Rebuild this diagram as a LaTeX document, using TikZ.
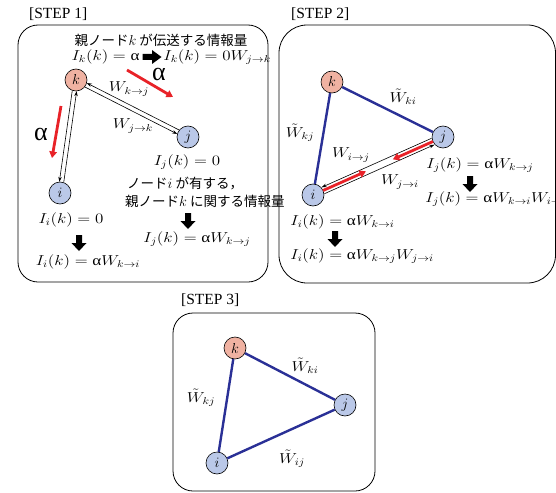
\documentclass[tikz,border=0pt]{standalone}
\usepackage{fontspec}
\setmainfont{Liberation Serif}
\newfontfamily\jp{Noto Sans CJK JP}
\usetikzlibrary{arrows.meta,calc}
\newcommand{\ua}{\mbox{\rmfamily α}}
\definecolor{nodek}{RGB}{240,178,162}
\definecolor{nodeb}{RGB}{186,200,232}
\definecolor{edgeblue}{RGB}{42,48,150}
\definecolor{redar}{RGB}{232,34,40}
\tikzset{
  panel/.style={draw, line width=0.8pt, rounded corners=20pt},
  vtx/.style={circle, draw, line width=0.6pt, minimum size=22pt, inner sep=0pt, font=\fontsize{15}{17}\selectfont},
  kv/.style={vtx, fill=nodek},
  bv/.style={vtx, fill=nodeb},
  steplabel/.style={font=\fontsize{15.5}{17}\selectfont, inner sep=0pt},
  eq/.style={font=\fontsize{14.5}{16}\selectfont, inner sep=1pt, xscale=1.18},
  jptext/.style={font=\jp\fontsize{13.5}{15}\selectfont, inner sep=0pt},
  alab/.style={font=\rmfamily\fontsize{26}{28}\selectfont, inner sep=0pt},
  thinarr/.style={line width=0.6pt, -{Stealth[length=5pt,width=3.5pt]}, shorten >=11pt, shorten <=11pt},
  redarr/.style={draw=redar, line width=2.8pt, -{Triangle[length=6.5pt,width=7.5pt]}, color=redar},
  blueedge/.style={draw=edgeblue, line width=2.4pt},
  downarr/.pic={\fill (-3,-8) -- (3,-8) -- (3,0) -- (7.5,0) -- (0,8) -- (-7.5,0) -- (-3,0) -- cycle;},
  rightarr/.pic={\fill (-9.5,-3) -- (0,-3) -- (0,-7) -- (9.5,0) -- (0,7) -- (0,3) -- (-9.5,3) -- cycle;}
}
\begin{document}
\begin{tikzpicture}[x=1pt,y=-1pt]
\useasboundingbox (0,0) rectangle (556,492);
% ---------- panels ----------
\draw[panel] (18,25) rectangle (268,282);
\draw[panel, rounded corners=28pt] (279,25) rectangle (555.5,283);
\draw[panel] (173,313) rectangle (375,491);
\node[steplabel, anchor=west] (s1) at (29,14) {[STEP 1]};
\node[steplabel, anchor=west] (s2) at (291,14) {[STEP 2]};
\node[steplabel, anchor=west] (s3) at (181,300) {[STEP 3]};
% ---------- STEP 1 ----------
\node[kv] (k1) at (76,80) {$k$};
\node[bv] (j1) at (188,137) {$j$};
\node[bv] (i1) at (60,193) {$i$};
\node[jptext] (t1) at (161,40) {親ノード$k$ が伝送する情報量};
\node[eq, anchor=east] (e1a) at (141,57) {$I_k(k)=\ua$};
\pic at (152,57) {rightarr};
\node[eq, anchor=west] (e1b) at (162,57) {$I_k(k)=0W_{j\to k}$};
% k-j double arrows
\draw[thinarr] ($(j1)!2.2pt!-90:(k1)$) -- ($(k1)!2.2pt!90:(j1)$);
\draw[thinarr] ($(k1)!2.2pt!-90:(j1)$) -- ($(j1)!2.2pt!90:(k1)$);
\node[eq] (w1) at (129,89) {$W_{k\to j}$};
\node[eq] (w2) at (133,126) {$W_{j\to k}$};
% k-i double arrows
\draw[thinarr] ($(i1)!2.2pt!-90:(k1)$) -- ($(k1)!2.2pt!90:(i1)$);
\draw[thinarr] ($(k1)!2.2pt!-90:(i1)$) -- ($(i1)!2.2pt!90:(k1)$);
% red arrows
\coordinate (ra1) at (127,70); \coordinate (ra2) at (173,97);
\draw[redarr] (ra1) -- (ra2);
\node[alab] (al1) at (159,74) {α};
\coordinate (rb1) at (61,106); \coordinate (rb2) at (52,158);
\draw[redarr] (rb1) -- (rb2);
\node[alab] (al2) at (41,134) {α};
% equations
\node[eq] (ij0) at (187,162) {$I_j(k)=0$};
\node[jptext, anchor=west] (t2) at (127,184) {ノード$i$ が有する，};
\node[jptext, anchor=west] (t3) at (125,201) {親ノード$k$ に関する情報量};
\pic at (188,221) {downarr};
\node[eq] (ij1) at (197,239) {$I_j(k)=\ua W_{k\to j}$};
\node[eq] (ii0) at (71,220) {$I_i(k)=0$};
\pic at (79,243) {downarr};
\node[eq] (ii1) at (88,262) {$I_i(k)=\ua W_{k\to i}$};
% ---------- STEP 2 ----------
\node[kv] (k2) at (332,82) {$k$};
\node[bv] (j2) at (443,137) {$j$};
\node[bv] (i2) at (313,195) {$i$};
\draw[blueedge] (k2) -- (j2);
\draw[blueedge] (k2) -- (i2);
\node[eq] (w3) at (300,133) {$\tilde{W}_{kj}$};
\node[eq] (w4) at (403,97) {$\tilde{W}_{ki}$};
\draw[thinarr] ($(i2)!3.5pt!-90:(j2)$) -- ($(j2)!3.5pt!90:(i2)$);
\draw[thinarr] ($(j2)!3.5pt!-90:(i2)$) -- ($(i2)!3.5pt!90:(j2)$);
\draw[redarr] ($(i2)!11pt!(j2)$) -- ($(i2)!58pt!(j2)$);
\draw[redarr] ($(j2)!11pt!(i2)$) -- ($(j2)!55pt!(i2)$);
\node[eq] (w5) at (351,155) {$W_{i\to j}$};
\node[eq] (w6) at (400,182) {$W_{j\to i}$};
\node[eq, anchor=west] (e2a) at (425,165) {$I_j(k)=\ua W_{k\to j}$};
\pic at (470,184) {downarr};
\node[eq, anchor=west] (e2b) at (424,199) {$I_j(k)=\ua W_{k\to i}W_{i\to j}$};
\node[eq, anchor=west] (e2c) at (289,222) {$I_i(k)=\ua W_{k\to i}$};
\pic at (335,239) {downarr};
\node[eq, anchor=west] (e2d) at (289,256) {$I_i(k)=\ua W_{k\to j}W_{j\to i}$};
% ---------- STEP 3 ----------
\node[kv] (k3) at (235,348) {$k$};
\node[bv] (j3) at (345,405) {$j$};
\node[bv] (i3) at (217,463) {$i$};
\draw[blueedge] (k3) -- (j3);
\draw[blueedge] (k3) -- (i3);
\draw[blueedge] (i3) -- (j3);
\node[eq] (w7) at (201,398) {$\tilde{W}_{kj}$};
\node[eq] (w8) at (305,366) {$\tilde{W}_{ki}$};
\node[eq] (w9) at (292,459) {$\tilde{W}_{ij}$};
\end{tikzpicture}
\end{document}
